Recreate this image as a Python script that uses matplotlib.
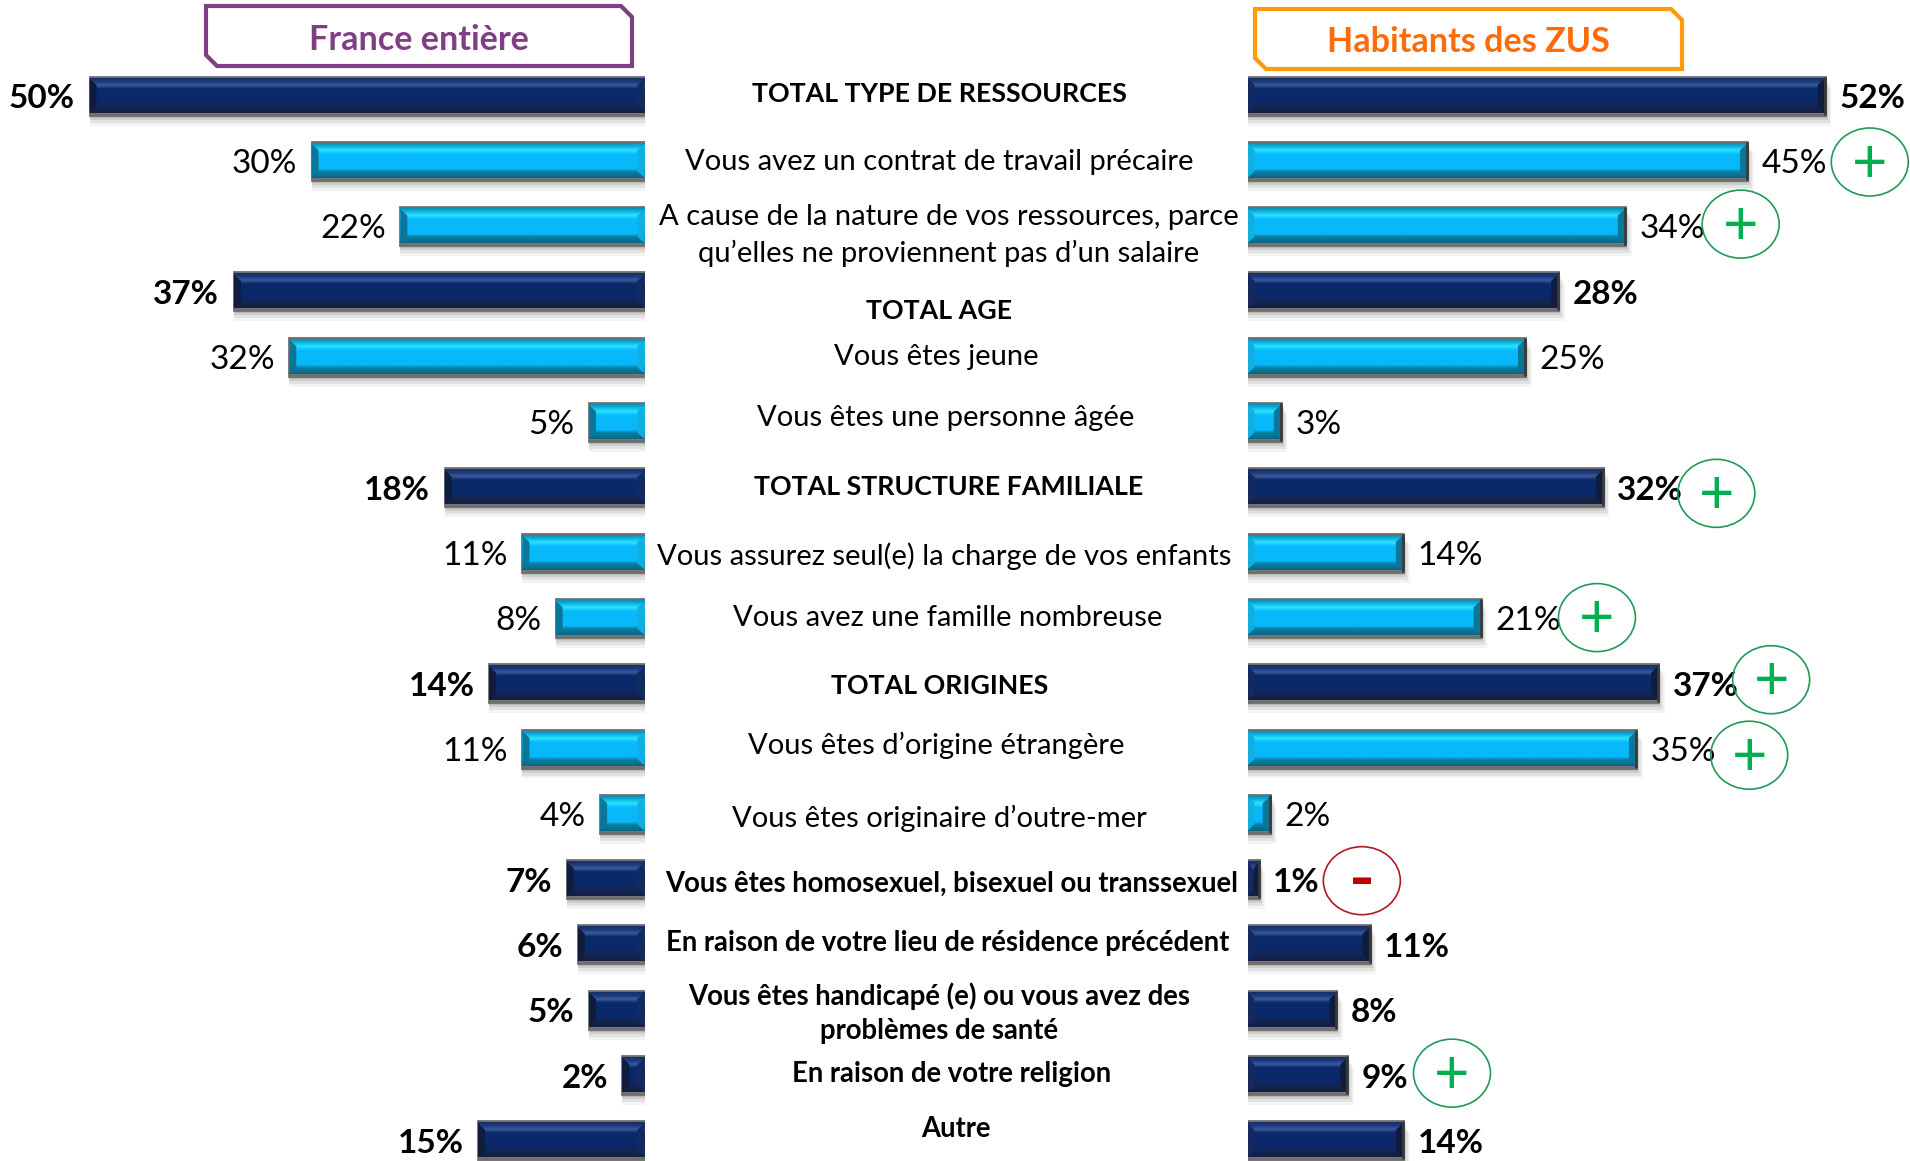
import numpy as np
import matplotlib
matplotlib.use("Agg")
import matplotlib.pyplot as plt
from matplotlib.patches import Polygon, Ellipse
from matplotlib.colors import to_rgb

# ---- data ----
row_labels = ["TOTAL TYPE DE RESSOURCES", "Vous avez un contrat de travail précaire",
              "A cause de la nature de vos ressources, parce\nqu’elles ne proviennent pas d’un salaire",
              "TOTAL AGE", "Vous êtes jeune", "Vous êtes une personne âgée",
              "TOTAL STRUCTURE FAMILIALE", "Vous assurez seul(e) la charge de vos enfants",
              "Vous avez une famille nombreuse", "TOTAL ORIGINES", "Vous êtes d’origine étrangère",
              "Vous êtes originaire d’outre-mer", "Vous êtes homosexuel, bisexuel ou transsexuel",
              "En raison de votre lieu de résidence précédent",
              "Vous êtes handicapé (e) ou vous avez des\nproblèmes de santé",
              "En raison de votre religion", "Autre"]
france = [50, 30, 22, 37, 32, 5, 18, 11, 8, 14, 11, 4, 7, 6, 5, 2, 15]
zus = [52, 45, 34, 28, 25, 3, 32, 14, 21, 37, 35, 2, 1, 11, 8, 9, 14]
is_total = [1, 0, 0, 1, 0, 0, 1, 0, 0, 1, 0, 0, 1, 1, 1, 1, 1]
sig_marks = {1: "+", 2: "+", 6: "+", 8: "+", 9: "+", 10: "+", 12: "-", 15: "+"}

# ---- layout (reference pixels) ----
W, H = 1910, 1161
plt.rcParams["font.family"] = ["Lato", "DejaVu Sans"]
fig = plt.figure(figsize=(W / 100, H / 100), dpi=100, facecolor="white")
PX_PER_PCT = 11.1
ROW0, ROWSTEP = 95.5, 65.3
LEFT_ZERO, RIGHT_ZERO = 644.5, 1247.5
BAR_H = 38 / ROWSTEP
FS_VAL = 24
FS_LAB = 21
FS_BOLD = 19.3
FS_SMALL = 19.8

ylim = ((H - ROW0) / ROWSTEP, -ROW0 / ROWSTEP)
axL = fig.add_axes([0, 0, LEFT_ZERO / W, 1])
axL.set_xlim(LEFT_ZERO / PX_PER_PCT, 0)
axR = fig.add_axes([RIGHT_ZERO / W, 0, (W - RIGHT_ZERO) / W, 1])
axR.set_xlim(0, (W - RIGHT_ZERO) / PX_PER_PCT)
top = fig.add_axes([0, 0, 1, 1])
top.set_xlim(0, W)
top.set_ylim(H, 0)
for a in (axL, axR, top):
    a.set_axis_off()
    a.patch.set_alpha(0)
axL.set_ylim(*ylim)
axR.set_ylim(*ylim)


def ramp(stops):
    t = np.linspace(0, 1, 80)
    pos = [s[0] for s in stops]
    cols = np.array([to_rgb(s[1]) for s in stops])
    return np.stack([np.interp(t, pos, cols[:, k]) for k in range(3)], axis=1)[:, None, :]


NAVY = ramp([(0, "#17306a"), (.10, "#1c3a78"), (.2, "#3a5b9c"), (.3, "#0b2a6c"), (.74, "#0a2868"),
             (.82, "#16264f"), (1, "#121f44")])
CYAN = ramp([(0, "#0a8fb8"), (.10, "#0fb5e0"), (.2, "#2be3ff"), (.32, "#07bafc"), (.74, "#07b8fa"),
             (.82, "#0b7fa6"), (1, "#0a6683")])
SIDE = {True: ("#16295f", "#101c3e"), False: ("#12aee0", "#0a7799")}


def draw_bars(ax, values, sign):
    dy = 6.5 / ROWSTEP
    for i, v in enumerate(values):
        tot = bool(is_total[i])
        for k, al in zip((11, 8, 5, 3), (.06, .09, .12, .16)):
            ax.barh(i + k / ROWSTEP, v + (k * .6 if sign > 0 else 0) / PX_PER_PCT, height=BAR_H, color="#404040",
                    alpha=al, linewidth=0, zorder=1)
        bar = ax.barh(i, v, height=BAR_H, color="#777777", edgecolor="#6f6f6f", linewidth=2, zorder=2)[0]
        im = ax.imshow(NAVY if tot else CYAN, extent=(0, v, i + BAR_H / 2 - .03, i - BAR_H / 2 + .03),
                       aspect="auto", zorder=3, interpolation="bilinear")
        im.set_clip_path(bar)
        dx = min(7 / PX_PER_PCT, v / 2.2)
        y0, y1 = i - BAR_H / 2 + .03, i + BAR_H / 2 - .03
        inner, outer = SIDE[tot]
        ax.add_patch(Polygon([(0, y0), (dx, y0 + dy), (dx, y1 - dy), (0, y1)], fc=inner, lw=0, zorder=4))
        ax.add_patch(Polygon([(v, y0), (v - dx, y0 + dy), (v - dx, y1 - dy), (v, y1)], fc=outer, lw=0, zorder=4))
        if sign > 0:
            ax.plot([v, v], [i - BAR_H / 2, i + BAR_H / 2], color="#3a3a3a", lw=2, zorder=5, solid_capstyle="butt")
        ax.annotate(f"{v}%", xy=(v, i), xytext=(sign * 14.5 * .72, -2.2),
                    textcoords="offset points", ha="left" if sign > 0 else "right", va="center",
                    fontsize=FS_VAL, fontweight="bold" if tot else "normal", color="black", zorder=6)
    ax.set_ylim(*ylim)


draw_bars(axL, france, -1)
draw_bars(axR, zus, 1)
axL.set_xlim(LEFT_ZERO / PX_PER_PCT, 0)
axR.set_xlim(0, (W - RIGHT_ZERO) / PX_PER_PCT)

# centre labels
S = 1910 / 1568
label_xy = [(771, 77), (771, 133), (779, 193), (771, 255), (769, 293), (776, 343), (779, 400), (775, 457),
            (778, 507), (771, 563), (769, 612), (771, 672), (781, 726), (778, 774), (771, 832), (781, 882), (785, 927)]
for i, (t, (x, y)) in enumerate(zip(row_labels, label_xy)):
    small = i >= 12
    bold = is_total[i]
    fs = FS_SMALL if small else (FS_BOLD if bold else FS_LAB)
    top.text(x * S, y * S, t, ha="center", va="center", fontsize=fs,
             fontweight="bold" if bold else "normal", color="black", linespacing=1.38 if i == 14 else 1.44)

# significance circles
mark_xy = {1: (1535, 133), 2: (1429, 184), 6: (1409, 405), 8: (1311, 507), 9: (1454, 558), 10: (1436, 620),
           12: (1118, 723), 15: (1192, 881)}
for i, sgn in sig_marks.items():
    x, y = mark_xy[i]
    green = sgn == "+"
    top.add_patch(Ellipse((x * S, y * S), 77, 68, fc="none", ec="#1f9a58" if green else "#b01822", lw=1.2, zorder=7))
    if green:
        top.text(x * S, y * S + 2, "+", color="#00b050", fontsize=44, ha="center", va="center", zorder=8)
    else:
        top.text(x * S, y * S + 1, "-", color="#c00000", fontsize=50, fontweight="bold", ha="center", va="center", zorder=8)


def header(x0, y0, x1, y1, color, tcolor, text):
    c = 11
    top.add_patch(Polygon([(x0, y0), (x1 - c, y0), (x1, y0 + c), (x1, y1), (x0 + c, y1), (x0, y1 - c)],
                          closed=True, fc="white", ec=color, lw=3, zorder=7))
    top.text((x0 + x1) / 2, (y0 + y1) / 2 + 3.5, text, color=tcolor, fontsize=24.6, fontweight="bold",
             ha="center", va="center", zorder=8)


header(206, 6, 632, 66, "#7f3f85", "#7f3f85", "France entière")
header(1255, 9, 1682, 69, "#ff9a0a", "#ff6a0a", "Habitants des ZUS")

fig.savefig("out.png", dpi=100)
